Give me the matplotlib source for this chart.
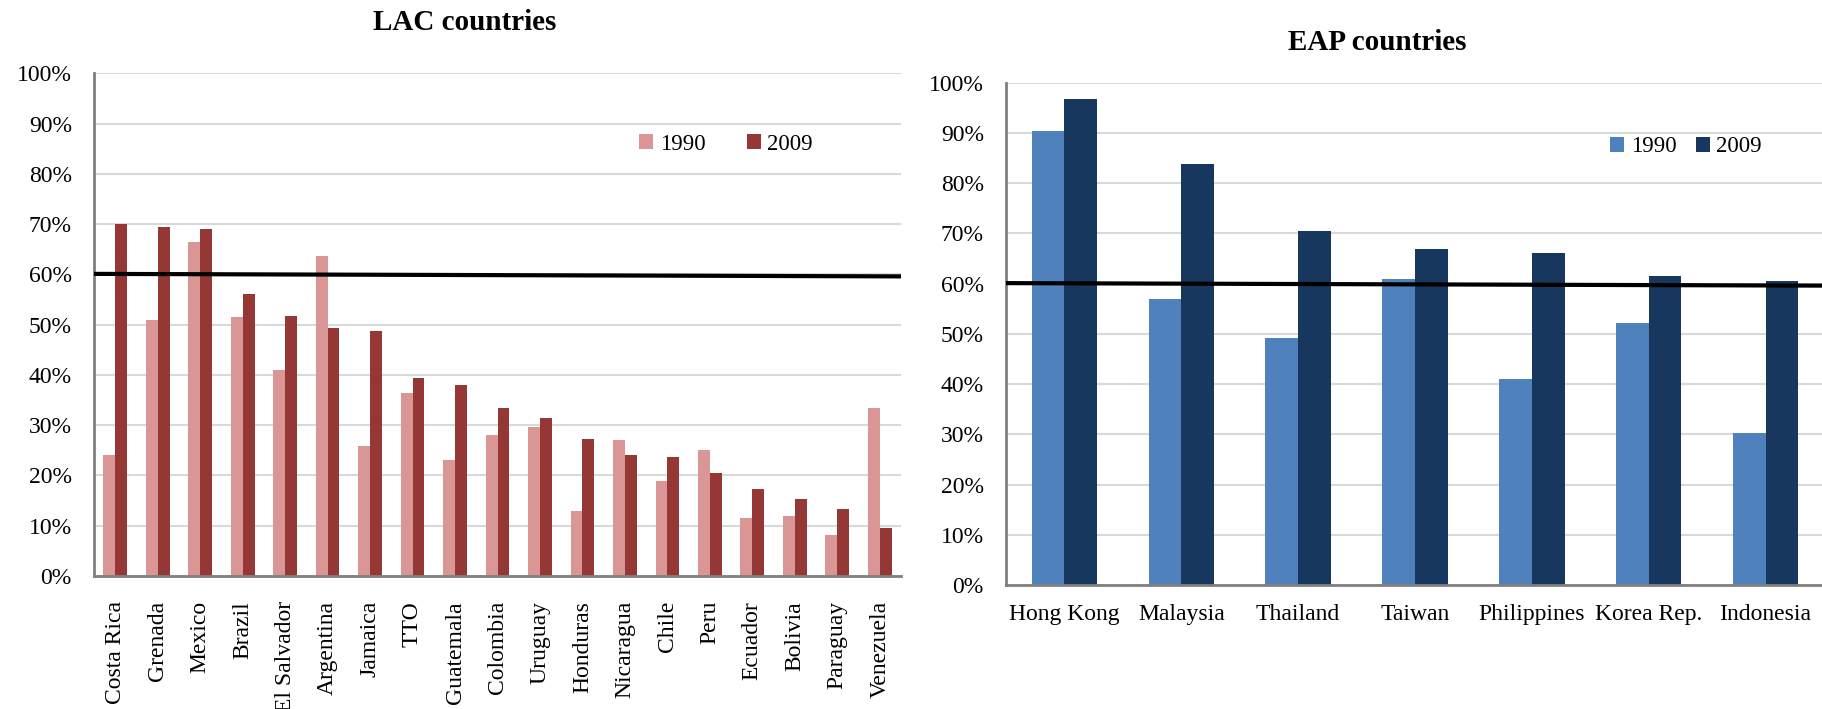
import numpy as np
import matplotlib
matplotlib.use("Agg")
import matplotlib.pyplot as plt
from matplotlib.ticker import PercentFormatter

plt.rcParams['font.family'] = ['Liberation Serif', 'DejaVu Serif']

# LAC countries, share (%) in 1990 and 2009
lac_names = ['Costa Rica', 'Grenada', 'Mexico', 'Brazil', 'El Salvador', 'Argentina',
             'Jamaica', 'TTO', 'Guatemala', 'Colombia', 'Uruguay', 'Honduras',
             'Nicaragua', 'Chile', 'Peru', 'Ecuador', 'Bolivia', 'Paraguay', 'Venezuela']
lac_1990 = [24.0, 51.0, 66.5, 51.5, 41.0, 63.6, 25.9, 36.4, 23.0, 28.1, 29.7, 13.0,
            27.0, 18.9, 25.1, 11.6, 11.9, 8.2, 33.5]
lac_2009 = [70.1, 69.5, 69.0, 56.0, 51.8, 49.4, 48.8, 39.3, 38.0, 33.5, 31.5, 27.3,
            24.0, 23.7, 20.5, 17.4, 15.4, 13.3, 9.5]

# EAP countries
eap_names = ['Hong Kong', 'Malaysia', 'Thailand', 'Taiwan', 'Philippines', 'Korea Rep.', 'Indonesia']
eap_1990 = [90.3, 56.9, 49.2, 61.0, 41.0, 52.1, 30.3]
eap_2009 = [96.7, 83.9, 70.4, 66.9, 66.1, 61.5, 60.6]

# reference line (drawn slightly sloped, start/end level)
ref_line = [60.1, 59.6]

W, H = 1822, 709
fig = plt.figure(figsize=(W / 100, H / 100), dpi=100)


def panel(rect, names, v90, v09, c90, c09, rot, lab_pad):
    ax = fig.add_axes(rect)
    n = len(names)
    x = np.arange(n)
    w = 0.28
    ax.bar(x - w / 2, v90, w, color=c90, label='1990', zorder=2)
    ax.bar(x + w / 2, v09, w, color=c09, label='2009', zorder=2)
    ax.plot([-0.5, n - 0.5], ref_line, color='black', lw=3, zorder=3, solid_capstyle='butt')
    ax.set_xlim(-0.5, n - 0.5)
    ax.set_ylim(0, 100)
    ax.set_yticks(np.arange(0, 101, 10))
    ax.yaxis.set_major_formatter(PercentFormatter(decimals=0))
    ax.grid(axis='y', color='#d9d9d9', lw=1.5, zorder=0)
    ax.set_axisbelow(True)
    for s in ['top', 'right']:
        ax.spines[s].set_visible(False)
    for s in ['left', 'bottom']:
        ax.spines[s].set_color('#808080')
        ax.spines[s].set_linewidth(2)
    ax.set_xticks(x)
    ax.set_xticklabels(names, rotation=rot, fontsize=17)
    ax.tick_params(axis='x', length=0, pad=lab_pad)
    ax.tick_params(axis='y', length=0, pad=16, labelsize=17)
    return ax


ax1 = panel([94 / W, 1 - 576 / H, (901 - 94) / W, (576 - 73.3) / H],
            lac_names, lac_1990, lac_2009, '#d99694', '#953735', 90, 18)
ax2 = panel([1006 / W, 1 - 585 / H, (1824 - 1006) / W, (585 - 82.7) / H],
            eap_names, eap_1990, eap_2009, '#4f81bd', '#17375e', 0, 14)

leg_kw = dict(ncol=2, frameon=False, fontsize=16.5, handlelength=0.63, handleheight=0.63,
              handletextpad=0.27, borderpad=0, borderaxespad=0, loc='center left')
ax1.legend(bbox_to_anchor=(639 / W, 1 - 144.5 / H), bbox_transform=fig.transFigure,
           columnspacing=1.8, **leg_kw)
ax2.legend(bbox_to_anchor=(1610 / W, 1 - 147 / H), bbox_transform=fig.transFigure,
           columnspacing=0.85, **leg_kw)

fig.text(465 / W, 1 - 23 / H, 'LAC countries', ha='center', va='center',
         fontsize=21, fontweight='bold')
fig.text(1377 / W, 1 - 43 / H, 'EAP countries', ha='center', va='center',
         fontsize=21, fontweight='bold')

fig.savefig('out.png', dpi=100)
